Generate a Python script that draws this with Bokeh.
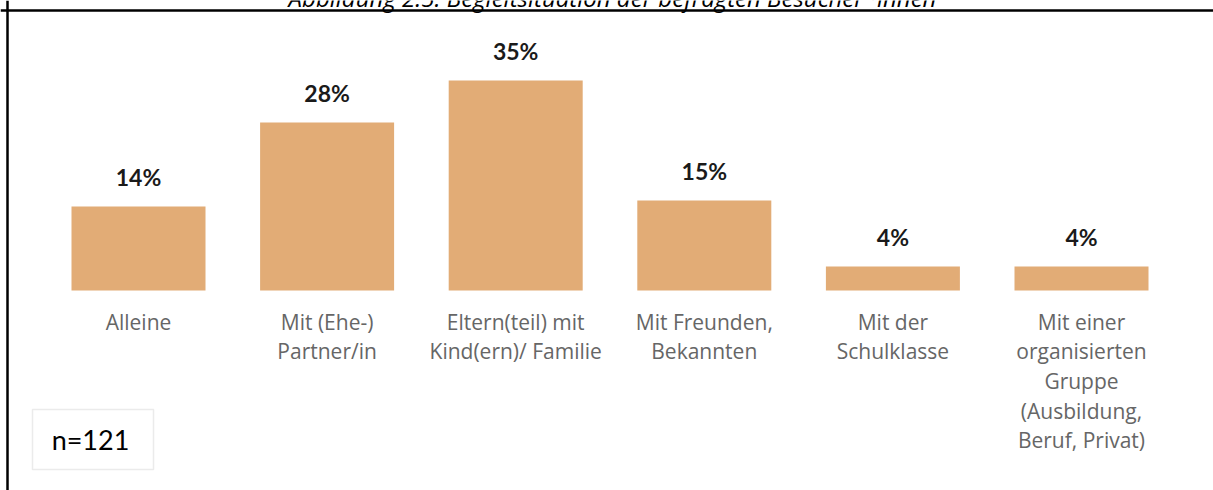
from bokeh.plotting import figure
from bokeh.models import Range1d, ColumnDataSource, BoxAnnotation, Label, Span
from bokeh.embed import file_html
from bokeh.resources import INLINE
from bokeh.core.properties import value

# ---- data ----
title_text = "Abbildung 2.5: Begleitsituation der befragten Besucher*innen"
categories = [
    "Alleine",
    "Mit (Ehe-)\nPartner/in",
    "Eltern(teil) mit\nKind(ern)/ Familie",
    "Mit Freunden,\nBekannten",
    "Mit der\nSchulklasse",
    "Mit einer\norganisierten\nGruppe\n(Ausbildung,\nBeruf, Privat)",
]
values = [14, 28, 35, 15, 4, 4]
value_labels = ["14%", "28%", "35%", "15%", "4%", "4%"]
sample_note = "n=121"

# ---- layout ----
W, H = 1213, 490
px_per_cat = 188.6
first_center_px = 138.0
px_per_pct = 6.0
baseline_px = 290.0  # from top of figure

x_range = Range1d(-first_center_px / px_per_cat, (W - first_center_px) / px_per_cat)
y_range = Range1d(-(H - baseline_px) / px_per_pct, baseline_px / px_per_pct)

p = figure(width=W, height=H, x_range=x_range, y_range=y_range,
           output_backend="svg", toolbar_location=None,
           x_axis_location=None, y_axis_location=None, min_border=0)
p.grid.visible = False
p.outline_line_color = None
p.background_fill_color = "white"
p.border_fill_color = "white"

idx = list(range(len(categories)))
src = ColumnDataSource(dict(x=idx, top=values, lab=value_labels, cat=categories,
                            zero=[0] * len(idx)))

p.vbar(x="x", top="top", bottom=0, width=134 / px_per_cat, source=src,
       fill_color="#E2AC76", line_color=None)

p.text(x="x", y="top", text="lab", source=src, y_offset=-30,
       text_align="center", text_baseline="alphabetic",
       text_font=value("Lato"), text_font_style="bold",
       text_font_size="23px", text_color="#1a1a1a")

p.text(x="x", y="zero", text="cat", source=src, y_offset=17,
       text_align="center", text_baseline="top", text_line_height=1.06,
       text_font=value("Open Sans"), text_font_size="21px", text_color="#666666")

# title (cut off at the top, as in the source image)
p.add_layout(Label(x=612, y=H + 3, x_units="screen", y_units="screen",
                   text=title_text, text_align="center", text_baseline="alphabetic",
                   text_font="Open Sans", text_font_style="italic",
                   text_font_size="24px", text_color="black"))

# frame lines (top and left)
p.add_layout(Span(location=7, dimension="height", location_units="screen",
                  line_color="black", line_width=2.5))
p.add_layout(Span(location=H - 10, dimension="width", location_units="screen",
                  line_color="black", line_width=2.5))

# sample size box
p.add_layout(BoxAnnotation(left=32, right=153, bottom=21, top=81,
                           left_units="screen", right_units="screen",
                           bottom_units="screen", top_units="screen",
                           fill_color="white", fill_alpha=1.0,
                           line_color="#bdbdbd", line_width=1.5))
p.add_layout(Label(x=90, y=51, x_units="screen", y_units="screen",
                   text=sample_note, text_align="center", text_baseline="middle",
                   text_font="Lato", text_font_size="27px", text_color="black"))

open("out.html", "w").write(file_html(p, INLINE))
